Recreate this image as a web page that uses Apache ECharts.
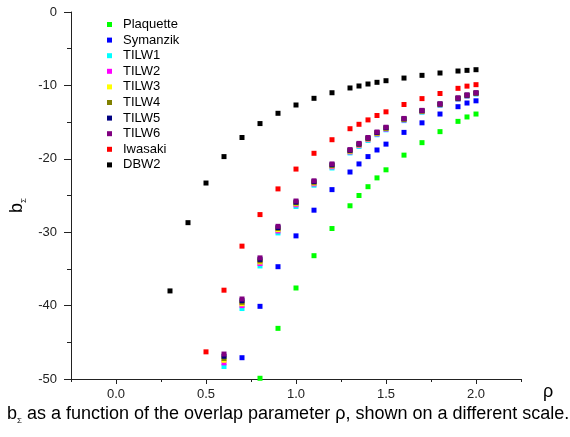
<!DOCTYPE html>
<html>
<head>
<meta charset="utf-8">
<script src="https://cdn.jsdelivr.net/npm/echarts@6/dist/echarts.min.js"></script>
<style>
html,body{margin:0;padding:0;background:#fff;}
#c{width:570px;height:437px;}
</style>
</head>
<body>
<div id="c"></div>
<script>
const rho = [0.3,0.4,0.5,0.6,0.7,0.8,0.9,1.0,1.1,1.2,1.3,1.35,1.4,1.45,1.5,1.6,1.7,1.8,1.9,1.95,2.0];
const plaquette = [null,null,null,null,null,-49.9,-43.1,-37.6,-33.2,-29.5,-26.4,-25.0,-23.8,-22.6,-21.5,-19.5,-17.8,-16.3,-14.9,-14.3,-13.9];
const symanzik = [null,null,null,null,-47.1,-40.1,-34.7,-30.5,-27.0,-24.2,-21.8,-20.7,-19.7,-18.8,-18.0,-16.4,-15.1,-13.9,-12.9,-12.4,-12.1];
const tilw1 = [null,null,null,-48.3,-40.4,-34.6,-30.1,-26.5,-23.6,-21.25,-19.2,-18.32,-17.5,-16.72,-16.05,-14.8,-13.65,-12.72,-11.9,-11.48,-11.17];
const tilw2 = [null,null,null,-47.8,-40.0,-34.27,-29.83,-26.27,-23.42,-21.08,-19.07,-18.2,-17.38,-16.61,-15.95,-14.71,-13.57,-12.65,-11.84,-11.43,-11.12];
const tilw3 = [null,null,null,-47.45,-39.75,-34.05,-29.65,-26.12,-23.3,-20.97,-18.97,-18.11,-17.3,-16.53,-15.87,-14.65,-13.52,-12.61,-11.8,-11.39,-11.08];
const tilw4 = [null,null,null,-47.2,-39.55,-33.9,-29.5,-26.0,-23.2,-20.9,-18.9,-18.05,-17.24,-16.48,-15.82,-14.6,-13.49,-12.58,-11.77,-11.36,-11.06];
const tilw5 = [null,null,null,-46.9,-39.33,-33.7,-29.36,-25.9,-23.1,-20.8,-18.83,-17.98,-17.17,-16.42,-15.76,-14.55,-13.45,-12.54,-11.74,-11.33,-11.03];
const tilw6 = [null,null,null,-46.6,-39.1,-33.5,-29.2,-25.75,-23.0,-20.7,-18.75,-17.9,-17.1,-16.35,-15.7,-14.5,-13.4,-12.5,-11.7,-11.3,-11.0];
const iwasaki = [null,null,-46.3,-37.9,-31.9,-27.6,-24.1,-21.4,-19.25,-17.4,-15.9,-15.3,-14.7,-14.1,-13.6,-12.6,-11.8,-11.1,-10.4,-10.1,-9.9];
const dbw2 = [-38.0,-28.7,-23.3,-19.7,-17.1,-15.2,-13.8,-12.67,-11.76,-11.0,-10.35,-10.08,-9.81,-9.58,-9.36,-9.0,-8.63,-8.31,-8.04,-7.95,-7.86];

const seriesNames = ['Plaquette','Symanzik','TILW1','TILW2','TILW3','TILW4','TILW5','TILW6','Iwasaki','DBW2'];
const seriesValues = [plaquette,symanzik,tilw1,tilw2,tilw3,tilw4,tilw5,tilw6,iwasaki,dbw2];
const seriesColors = ['#00ff00','#0000ff','#00ffff','#ff00ff','#ffff00','#808000','#000080','#800080','#ff0000','#000000'];
const xMajorTicks = [0.0,0.5,1.0,1.5,2.0];

const FONT = "'Liberation Sans', Arial, sans-serif";

function pairs(vals){
  const out = [];
  vals.forEach((v,i)=>{ if(v!==null) out.push([rho[i], v]); });
  return out;
}

const chart = echarts.init(document.getElementById('c'), null, {renderer:'canvas'});
const option = {
  animation:false,
  backgroundColor:'#fff',
  textStyle:{fontFamily:FONT},
  grid:{left:71,right:49,top:12,bottom:58,containLabel:false},
  legend:{
    orient:'vertical', left:102, top:12,
    itemWidth:5, itemHeight:5, itemGap:0.6,
    icon:'rect',
    textStyle:{fontSize:13,color:'#000',fontFamily:FONT,lineHeight:15,padding:[0,0,0,6]},
    data:seriesNames
  },
  xAxis:[{
    type:'value', min:-0.25, max:2.25, interval:0.25,
    position:'bottom',
    splitLine:{show:false},
    axisLine:{onZero:false,lineStyle:{color:'#222',width:1}},
    axisTick:{show:true,length:3,lineStyle:{color:'#222'}},
    axisLabel:{fontSize:13,color:'#222',margin:9,fontFamily:FONT,
      customValues:xMajorTicks,
      formatter:v=>v.toFixed(1)},
    name:'ρ', nameLocation:'end', nameGap:22,
    nameTextStyle:{fontSize:18,color:'#000',verticalAlign:'top',padding:[4,0,0,0],fontFamily:FONT}
  },{
    type:'value', min:-0.25, max:2.25, interval:0.25,
    position:'bottom', offset:0,
    splitLine:{show:false},
    axisLine:{show:false,onZero:false},
    axisTick:{show:true,length:5,customValues:xMajorTicks,lineStyle:{color:'#222'}},
    axisLabel:{show:false}
  }],
  yAxis:{
    type:'value', min:-50, max:0, interval:10,
    splitLine:{show:false},
    axisLine:{show:true,onZero:false,lineStyle:{color:'#222',width:1}},
    axisTick:{show:true,length:7,lineStyle:{color:'#222'}},
    minorTick:{show:true,splitNumber:2,length:4,lineStyle:{color:'#222'}},
    axisLabel:{fontSize:13,color:'#222',margin:14,fontFamily:FONT},
    name:'{b|b}{s|Σ}', nameLocation:'middle', nameRotate:90, nameGap:42,
    nameTextStyle:{color:'#000',padding:[0,20,0,0],
      rich:{b:{fontSize:18,color:'#000',fontFamily:FONT},s:{fontSize:8,color:'#000',padding:[12,0,0,0],fontFamily:FONT}}}
  },
  graphic:[{
    type:'text', left:7, top:405,
    style:{
      text:'{b|b}{s|Σ}{t| as a function of the overlap parameter ρ, shown on a different scale.}',
      rich:{
        b:{fontSize:18,fill:'#000',fontFamily:FONT},
        s:{fontSize:8,fill:'#000',padding:[14,0,0,0],fontFamily:FONT},
        t:{fontSize:18,fill:'#000',fontFamily:FONT}
      }
    }
  }],
  series: seriesNames.map((n,i)=>({
    name:n, type:'scatter', xAxisIndex:0, symbol:'rect', symbolSize:5,
    itemStyle:{color:seriesColors[i],opacity:1},
    data:pairs(seriesValues[i])
  }))
};
chart.setOption(option);
</script>
</body>
</html>
